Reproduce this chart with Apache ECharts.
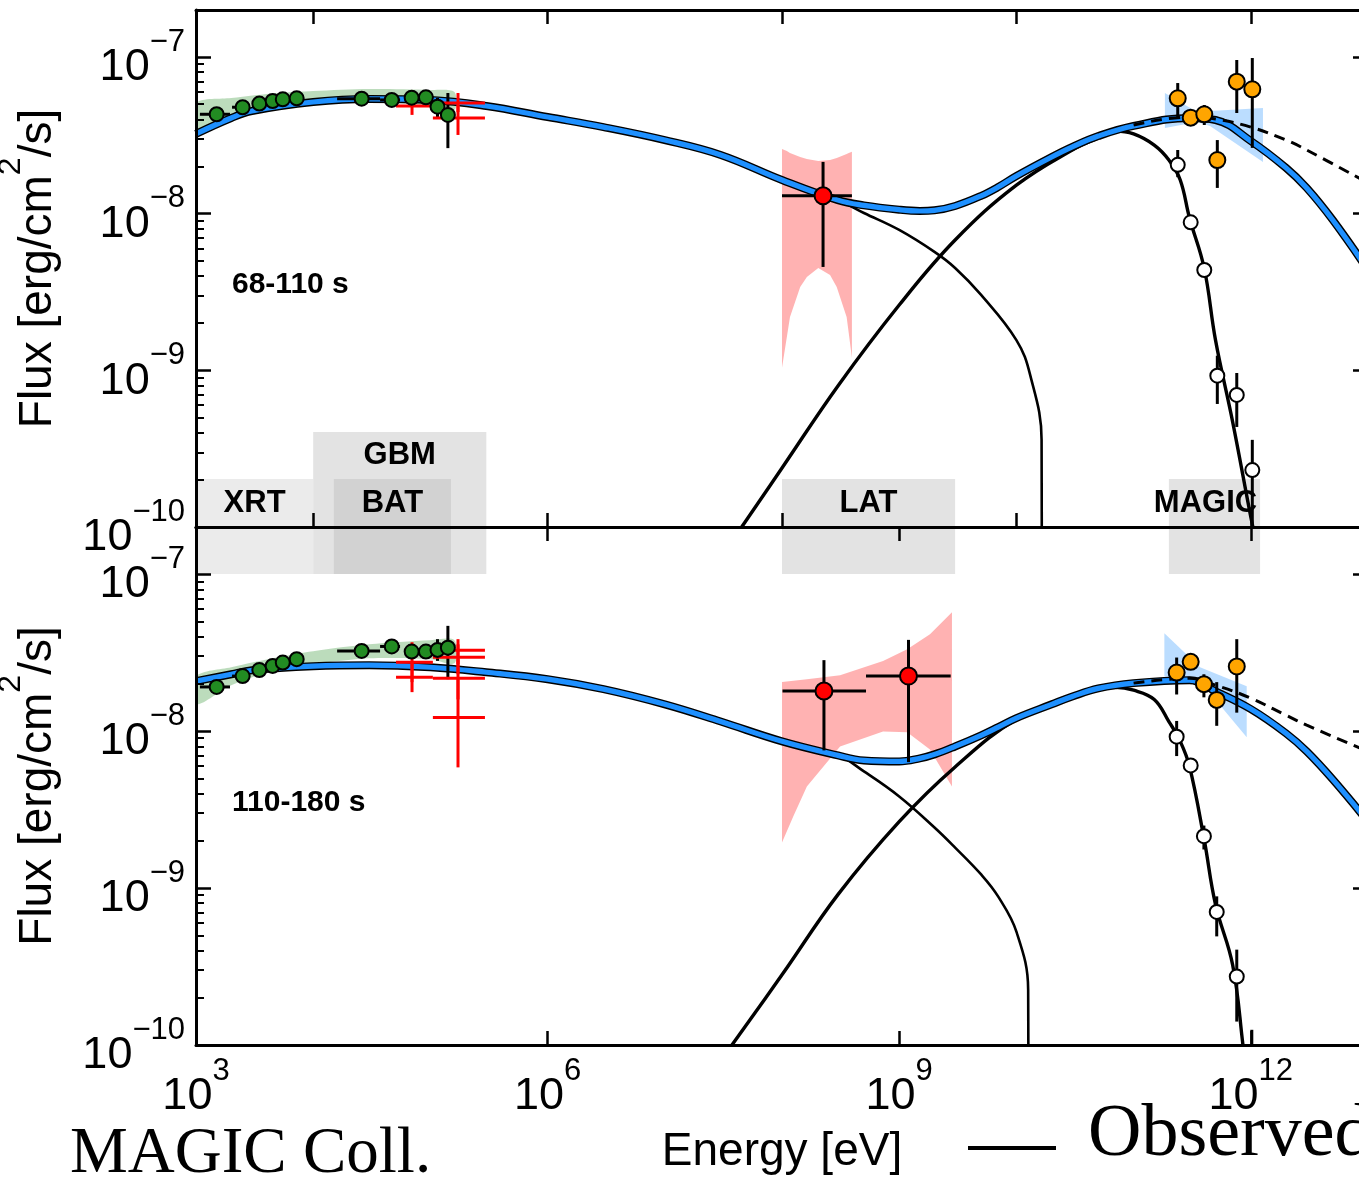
<!DOCTYPE html>
<html>
<head>
<meta charset="utf-8">
<script src="https://cdn.jsdelivr.net/npm/echarts@6/dist/echarts.min.js"></script>
<style>
html,body{margin:0;padding:0;background:#fff;}
#chart{width:1359px;height:1179px;}
</style>
</head>
<body>
<div id="chart"></div>
<script>
// Broadband SED of the two time windows. Energies in eV, fluxes in erg/cm^2/s.

// ---- X-ray points (XRT + BAT), shared energies ----
const xrayE   = [1.50e3, 2.50e3, 3.47e3, 4.51e3, 5.50e3, 7.23e3, 2.59e4, 4.68e4, 6.92e4, 9.16e4, 1.15e5, 1.41e5];
const xrayElo = [1.08e3, 2.03e3, null, null, null, null, 1.60e4, 3.72e4, null, null, null, null];
const xrayEhi = [1.95e3, 2.89e3, null, null, null, null, 3.72e4, 5.51e4, null, null, null, null];
const xrayF1   = [4.31e-8, 4.78e-8, 5.04e-8, 5.24e-8, 5.37e-8, 5.45e-8, 5.42e-8, 5.32e-8, 5.50e-8, 5.53e-8, 4.82e-8, 4.27e-8];
const xrayFlo1 = [null, null, null, null, null, null, null, null, null, null, 4.08e-8, 2.62e-8];
const xrayFhi1 = [null, null, null, null, null, null, null, null, null, null, 5.48e-8, 5.89e-8];
const xrayF2   = [1.91e-8, 2.24e-8, 2.45e-8, 2.60e-8, 2.73e-8, 2.87e-8, 3.24e-8, 3.46e-8, 3.21e-8, 3.21e-8, 3.29e-8, 3.40e-8];
const xrayFlo2 = [null, null, null, null, null, null, null, null, null, null, 2.80e-8, 2.14e-8];
const xrayFhi2 = [null, null, null, null, null, null, null, null, null, null, 3.85e-8, 4.68e-8];

// X-ray fit band
const xbandE   = [1e3, 2e3, 5e3, 1e4, 3e4, 1e5, 1.6e5];
const xbandLo1 = [3.47e-8, 4.27e-8, 5.01e-8, 5.24e-8, 5.24e-8, 4.87e-8, 4.59e-8];
const xbandHi1 = [5.09e-8, 5.47e-8, 5.89e-8, 6.07e-8, 6.25e-8, 6.16e-8, 5.98e-8];
const xbandLo2 = [1.48e-8, 1.96e-8, 2.48e-8, 2.67e-8, 2.91e-8, 2.87e-8, 2.70e-8];
const xbandHi2 = [2.23e-8, 2.55e-8, 2.95e-8, 3.23e-8, 3.57e-8, 3.79e-8, 3.79e-8];

// ---- GBM points ----
const gbmE1   = [6.97e4, 1.72e5, 1.72e5];
const gbmElo1 = [5.09e4, 1.05e5, 1.05e5];
const gbmEhi1 = [1.05e5, 2.92e5, 2.92e5];
const gbmF1   = [4.87e-8, 5.09e-8, 4.08e-8];
const gbmFlo1 = [4.27e-8, 4.46e-8, 3.18e-8];
const gbmFhi1 = [6.16e-8, 5.89e-8, 4.94e-8];
const gbmE2   = [6.97e4, 6.97e4, 1.72e5, 1.72e5, 1.72e5, 1.72e5];
const gbmElo2 = [5.09e4, 5.09e4, 1.05e5, 1.05e5, 1.05e5, 1.05e5];
const gbmEhi2 = [1.05e5, 1.05e5, 2.92e5, 2.92e5, 2.92e5, 2.92e5];
const gbmF2   = [2.74e-8, 2.20e-8, 3.27e-8, 2.95e-8, 2.17e-8, 1.22e-8];
const gbmFlo2 = [2.05e-8, 1.77e-8, 2.67e-8, 2.30e-8, 1.59e-8, 5.87e-9];
const gbmFhi2 = [3.68e-8, 2.74e-8, 3.85e-8, 3.57e-8, 2.87e-8, 2.14e-8];

// ---- LAT points and butterflies ----
const latE1 = [2.24e8], latElo1 = [1.00e8], latEhi1 = [3.95e8];
const latF1 = [1.30e-8], latFlo1 = [4.57e-9], latFhi1 = [2.14e-8];
const latE2 = [2.28e8, 1.20e9], latElo2 = [1.01e8, 5.21e8], latEhi2 = [5.21e8, 2.75e9];
const latF2 = [1.80e-8, 2.24e-8], latFlo2 = [7.53e-9, 6.34e-9], latFhi2 = [2.83e-8, 3.81e-8];

const latBandE1  = [1.00e8, 1.10e8, 1.17e8, 1.43e8, 1.63e8, 2.04e8, 2.57e8, 2.93e8, 3.56e8, 3.71e8, 3.95e8];
const latBandHi1 = [2.59e-8, 2.51e-8, 2.44e-8, 2.30e-8, 2.23e-8, 2.17e-8, 2.20e-8, 2.27e-8, 2.40e-8, 2.44e-8, 2.48e-8];
const latBandLo1 = [1.04e-9, 1.63e-9, 2.19e-9, 3.40e-9, 3.94e-9, 4.50e-9, 4.06e-9, 3.40e-9, 2.19e-9, 1.73e-9, 1.20e-9];
const latBandE2  = [1.00e8, 1.25e8, 1.63e8, 3.13e8, 7.28e8, 1.17e9, 1.83e9, 2.82e9];
const latBandHi2 = [2.05e-8, 2.09e-8, 2.14e-8, 2.27e-8, 2.79e-8, 3.32e-8, 4.14e-8, 5.72e-8];
const latBandLo2 = [1.95e-9, 2.87e-9, 4.44e-9, 7.98e-9, 9.95e-9, 9.81e-9, 7.64e-9, 4.44e-9];

// ---- MAGIC: EBL-corrected (orange) and observed (white) ----
const magicE1    = [2.38e11, 3.07e11, 4.01e11, 5.18e11, 7.59e11, 1.03e12];
const orangeF1   = [5.45e-8, 4.10e-8, 4.31e-8, 2.20e-8, 6.96e-8, 6.22e-8];
const orangeFlo1 = [4.14e-8, 3.68e-8, 3.68e-8, 1.46e-8, 4.39e-8, 2.63e-8];
const orangeFhi1 = [6.82e-8, 4.46e-8, 4.94e-8, 2.95e-8, 9.57e-8, 9.85e-8];
const whiteF1    = [2.05e-8, 8.81e-9, 4.37e-9, 9.25e-10, 6.97e-10, 2.31e-10];
const whiteFlo1  = [1.71e-8, 8.10e-9, 4.00e-9, 6.10e-10, 4.35e-10, 7.9e-11];
const whiteFhi1  = [2.55e-8, 9.60e-9, 4.80e-9, 1.24e-9, 9.62e-10, 3.60e-10];

const magicE2    = [2.33e11, 3.07e11, 3.98e11, 5.12e11, 7.59e11];
const orangeF2   = [2.36e-8, 2.76e-8, 1.99e-8, 1.58e-8, 2.58e-8];
const orangeFlo2 = [1.71e-8, 2.60e-8, 1.64e-8, 1.08e-8, 1.31e-8];
const orangeFhi2 = [2.94e-8, 2.90e-8, 2.30e-8, 2.05e-8, 3.85e-8];
const whiteE2    = [2.33e11, 3.07e11, 3.98e11, 5.12e11, 7.59e11, 1.02e12];
const whiteF2    = [9.21e-9, 6.04e-9, 2.14e-9, 7.04e-10, 2.73e-10, 7.0e-11];
const whiteFlo2  = [6.93e-9, 5.50e-9, 1.76e-9, 4.92e-10, 1.41e-10, 4.0e-11];
const whiteFhi2  = [1.16e-8, 6.60e-9, 2.50e-9, 8.85e-10, 4.05e-10, 1.25e-10];

const magicBandE1  = [1.85e11, 3.48e11, 4.49e11, 1.27e12];
const magicBandHi1 = [5.89e-8, 4.46e-8, 4.52e-8, 4.73e-8];
const magicBandLo1 = [3.52e-8, 3.85e-8, 3.63e-8, 2.14e-8];
const magicBandE2  = [1.83e11, 3.69e11, 9.23e11];
const magicBandHi2 = [4.20e-8, 2.55e-8, 1.93e-8];
const magicBandLo2 = [2.23e-8, 2.08e-8, 9.12e-9];

// ---- Model curves ----
const modelE  = [1e3, 2e3, 3e3, 1e4, 3e4, 1e5, 3e5, 1e6, 3e6, 1e7, 3e7, 1e8, 3e8, 5e8, 1e9, 1.5e9, 2e9, 3e9, 5e9, 7e9, 1e10, 2e10, 3e10, 5e10, 1e11, 3e11, 5e11, 1e12, 2e12, 3e12, 5e12, 1e13];
const totalF1 = [3.23e-8, 4.08e-8, 4.52e-8, 5.16e-8, 5.40e-8, 5.32e-8, 4.87e-8, 4.14e-8, 3.57e-8, 2.95e-8, 2.37e-8, 1.64e-8, 1.22e-8, 1.13e-8, 1.06e-8, 1.04e-8, 1.05e-8, 1.12e-8, 1.30e-8, 1.48e-8, 1.74e-8, 2.30e-8, 2.67e-8, 3.13e-8, 3.63e-8, 4.08e-8, 3.96e-8, 2.91e-8, 1.96e-8, 1.46e-8, 9.12e-9, 4.37e-9];
const totalF2 = [2.08e-8, 2.30e-8, 2.44e-8, 2.59e-8, 2.63e-8, 2.55e-8, 2.37e-8, 2.14e-8, 1.85e-8, 1.48e-8, 1.15e-8, 8.60e-9, 7.00e-9, 6.50e-9, 6.41e-9, 6.70e-9, 7.10e-9, 7.98e-9, 9.39e-9, 1.06e-8, 1.21e-8, 1.48e-8, 1.66e-8, 1.87e-8, 2.02e-8, 2.11e-8, 1.79e-8, 1.38e-8, 9.67e-9, 7.42e-9, 4.92e-9, 2.65e-9];

const synchE1 = [1e6, 3e6, 1e7, 3e7, 1e8, 3e8, 5e8, 1e9, 2e9, 3e9, 5e9, 1e10, 1.31e10, 1.64e10, 1.65e10];
const synchF1 = [4.14e-8, 3.57e-8, 2.95e-8, 2.37e-8, 1.64e-8, 1.22e-8, 1.01e-8, 7.87e-9, 5.70e-9, 4.50e-9, 3.03e-9, 1.56e-9, 9.35e-10, 3.60e-10, 1.0e-11];
const synchE2 = [1e6, 3e6, 1e7, 3e7, 1e8, 3e8, 5e8, 1e9, 2e9, 3e9, 5e9, 7e9, 1e10, 1.26e10, 1.27e10];
const synchF2 = [2.14e-8, 1.85e-8, 1.48e-8, 1.15e-8, 8.60e-9, 7.00e-9, 5.53e-9, 3.83e-9, 2.43e-9, 1.81e-9, 1.22e-9, 8.81e-10, 5.27e-10, 2.25e-10, 1.0e-11];

const icE1 = [4.53e7, 1e8, 3e8, 1e9, 3e9, 1e10, 3e10, 5e10, 7e10, 1e11, 1.5e11, 2e11, 2.5e11, 3e11, 4e11, 5e11, 7e11, 1e12, 1.1e12];
const icF1 = [1.0e-10, 2.38e-10, 7.95e-10, 2.61e-9, 6.79e-9, 1.52e-8, 2.55e-8, 3.04e-8, 3.37e-8, 3.23e-8, 2.74e-8, 2.20e-8, 1.64e-8, 9.39e-9, 4.50e-9, 1.56e-9, 4.69e-10, 1.16e-10, 8.3e-11];
const icE2 = [3.74e7, 1e8, 3e8, 1e9, 3e9, 1e10, 3e10, 5e10, 7e10, 1e11, 1.5e11, 2e11, 2.5e11, 3e11, 4e11, 5e11, 7e11, 8.57e11, 9.5e11];
const icF2 = [1.0e-10, 2.80e-10, 9.08e-10, 2.65e-9, 5.91e-9, 1.19e-8, 1.66e-8, 1.87e-8, 1.90e-8, 1.82e-8, 1.59e-8, 1.15e-8, 8.60e-9, 5.95e-9, 2.04e-9, 7.84e-10, 3.24e-10, 1.0e-10, 5.0e-11];

const dashE  = [1e11, 3e11, 5e11, 1e12, 2e12, 3e12, 1e13];
const dashF1 = [3.68e-8, 4.14e-8, 4.02e-8, 3.57e-8, 2.95e-8, 2.55e-8, 1.57e-8];
const dashF2 = [2.02e-8, 2.17e-8, 1.96e-8, 1.62e-8, 1.26e-8, 1.09e-8, 7.42e-9];

// ---- Instrument energy ranges ----
const instNames = ['XRT', 'GBM', 'BAT', 'LAT', 'MAGIC'];
const instLo    = [3e2, 1e4, 1.5e4, 1e8, 2e11];
const instHi    = [1e4, 3e5, 1.5e5, 3e9, 1.2e12];

// ---- Axis ticks (log10 units) ----
const xTicksTop    = [4, 6, 8, 10, 12];
const xTicksBottom = [3, 6, 9, 12];
const yTicks       = [-10, -9, -8, -7];

// ---------------------------------------------------------------
const FONT  = '"Liberation Sans", Arial, Helvetica, sans-serif';
const SERIF = '"Liberation Serif", "Times New Roman", serif';
const lg = Math.log10;
const Y_MIN = -10, Y_MAX = -6.7;
const CLEAR = 'rgba(0,0,0,0)';

// box styling for instrument ranges
const instFill  = ['#ebebeb', '#e3e3e3', '#d2d2d2', '#e3e3e3', '#e3e3e3'];
const instTier  = [-9.694, -9.394, -9.694, -9.694, -9.694];
const instTextY = [-9.847, -9.544, -9.847, -9.847, -9.847];
const instTextDx = [0, 0, 0, 0, -9];

function minorLogTicks(lo, hi) {
  const v = [];
  for (let n = Math.floor(lo); n < hi; n++) {
    for (let k = 2; k <= 9; k++) {
      const t = n + Math.log10(k);
      if (t > lo && t < hi) v.push(t);
    }
  }
  return v;
}
const yMinor = minorLogTicks(Y_MIN, Y_MAX);

// "10^n" written on two lines: the exponent line on top, the base below;
// invisible twins keep both lines the same width.
const expRich = {
  s:  {fontSize: 31, lineHeight: 22, fontFamily: FONT, color: '#000'},
  bh: {fontSize: 45, lineHeight: 22, fontFamily: FONT, color: CLEAR},
  b:  {fontSize: 45, lineHeight: 30, fontFamily: FONT, color: '#000'},
  sh: {fontSize: 31, lineHeight: 30, fontFamily: FONT, color: CLEAR}
};
function powerLabel(exp) {
  return '{bh|10}{s|' + exp + '}\n{b|10}{sh|' + exp + '}';
}

function xAxisCfg(gridIndex, position, ticks, labels) {
  const ax = {
    type: 'value', gridIndex, position, min: 3, max: 13, z: 10,
    axisLine: {show: true, onZero: false, lineStyle: {color: '#000', width: 3}},
    axisTick: {show: true, inside: true, length: 14, customValues: ticks, lineStyle: {color: '#000', width: 2.5}},
    axisLabel: {show: false},
    splitLine: {show: false}
  };
  if (labels) {
    ax.axisLabel = {
      show: true, customValues: ticks, margin: 15,
      formatter: v => powerLabel(String(Math.round(v))),
      rich: expRich
    };
    ax.name = 'Energy [eV]';
    ax.nameLocation = 'middle';
    ax.nameGap = 84;
    ax.nameMoveOverlap = false;
    ax.nameTextStyle = {fontSize: 46, fontFamily: FONT, color: '#000'};
  }
  return ax;
}

function yAxisCfg(gridIndex, position, minor, labels) {
  const ax = {
    type: 'value', gridIndex, position, min: Y_MIN, max: Y_MAX, z: 10,
    axisLine: {show: !minor, onZero: false, lineStyle: {color: '#000', width: 3}},
    axisTick: {show: true, inside: true, length: minor ? 8 : 15, customValues: minor ? yMinor : yTicks,
               lineStyle: {color: '#000', width: minor ? 2 : 2.5}},
    axisLabel: {show: false},
    splitLine: {show: false}
  };
  if (labels) {
    ax.axisLabel = {
      show: true, customValues: yTicks, margin: 11,
      formatter: v => powerLabel('\u2212' + Math.abs(Math.round(v))),
      rich: expRich
    };
    ax.name = '{ah|Flux [erg/cm}{s|2}{ah|/s]}\n{a|Flux [erg/cm}{sh|2}{a|/s]}';
    ax.nameLocation = 'middle';
    ax.nameRotate = 90;
    ax.nameGap = 141;
    ax.nameMoveOverlap = false;
    ax.nameTextStyle = {
      align: 'center',
      rich: {
        s:  {fontSize: 32, lineHeight: 20, fontFamily: FONT, color: '#000'},
        ah: {fontSize: 46, lineHeight: 20, fontFamily: FONT, color: CLEAR},
        a:  {fontSize: 46, lineHeight: 34, fontFamily: FONT, color: '#000'},
        sh: {fontSize: 32, lineHeight: 34, fontFamily: FONT, color: CLEAR}
      }
    };
  }
  return ax;
}

// --- series builders ---
function axes(g) { return {xAxisIndex: g ? 2 : 0, yAxisIndex: g ? 4 : 0}; }

function instBoxes(g) {
  return Object.assign({
    type: 'custom', z: 1, clip: true, silent: true, animation: false,
    data: instNames.map((n, i) => [lg(instHi[i]), g ? -7 : -10]),
    renderItem(params, api) {
      const i = params.dataIndex;
      const y0 = g ? -7 : Y_MIN, y1 = g ? Y_MAX : instTier[i];
      const p0 = api.coord([lg(instLo[i]), y0]);
      const p1 = api.coord([lg(instHi[i]), y1]);
      return {type: 'rect', shape: {x: p0[0], y: p1[1], width: p1[0] - p0[0], height: p0[1] - p1[1]},
              style: {fill: instFill[i]}};
    }
  }, axes(g));
}

function instLabels() {
  return Object.assign({
    type: 'custom', z: 9, clip: true, silent: true, animation: false,
    data: instNames.map((n, i) => [lg(instHi[i]), instTextY[i]]),
    renderItem(params, api) {
      const i = params.dataIndex, cs = params.coordSys;
      const a = api.coord([lg(instLo[i]), instTextY[i]]);
      const b = api.coord([lg(instHi[i]), instTextY[i]]);
      const xl = Math.max(a[0], cs.x), xr = Math.min(b[0], cs.x + cs.width);
      return {type: 'text', x: (xl + xr) / 2 + instTextDx[i], y: a[1],
              style: {text: instNames[i], font: 'bold 31px ' + FONT, fill: '#000',
                      align: 'center', verticalAlign: 'middle', textAlign: 'center', textVerticalAlign: 'middle'}};
    }
  }, axes(0));
}

function band(g, E, lo, hi, color, smooth) {
  return Object.assign({
    type: 'custom', z: 2, clip: true, silent: true, animation: false,
    data: [[lg(E[0]), lg(hi[0])]],
    renderItem(params, api) {
      const pts = [];
      for (let i = 0; i < E.length; i++) pts.push(api.coord([lg(E[i]), lg(hi[i])]));
      for (let i = E.length - 1; i >= 0; i--) pts.push(api.coord([lg(E[i]), lg(lo[i])]));
      return {type: 'polygon', shape: {points: pts, smooth: smooth || 0}, style: {fill: color}};
    }
  }, axes(g));
}

function curve(g, E, F, color, width, z, dashed) {
  return Object.assign({
    type: 'line', z, silent: true, animation: false, clip: true,
    showSymbol: false, symbol: 'none', smooth: 0.4,
    lineStyle: {color, width, type: dashed ? [11, 7] : 'solid', cap: 'butt'},
    data: E.map((e, i) => [lg(e), lg(F[i])])
  }, axes(g));
}

function errBars(g, E, F, Elo, Ehi, Flo, Fhi, color, width) {
  return Object.assign({
    type: 'custom', z: 7, clip: true, silent: true, animation: false,
    data: E.map((e, i) => [lg(e), lg(F[i])]),
    renderItem(params, api) {
      const i = params.dataIndex, kids = [];
      const x = lg(E[i]), y = lg(F[i]);
      const st = {stroke: color, lineWidth: width};
      if (Elo && Elo[i] != null) {
        const a = api.coord([lg(Elo[i]), y]), b = api.coord([lg(Ehi[i]), y]);
        kids.push({type: 'line', shape: {x1: a[0], y1: a[1], x2: b[0], y2: b[1]}, style: st});
      }
      if (Flo && Flo[i] != null) {
        const a = api.coord([x, lg(Flo[i])]), b = api.coord([x, lg(Fhi[i])]);
        kids.push({type: 'line', shape: {x1: a[0], y1: a[1], x2: b[0], y2: b[1]}, style: st});
      }
      return {type: 'group', children: kids};
    }
  }, axes(g));
}

function points(g, E, F, fill, size) {
  return Object.assign({
    type: 'scatter', z: 8, silent: true, animation: false, clip: true,
    symbol: 'circle', symbolSize: size,
    itemStyle: {color: fill, borderColor: '#000', borderWidth: 2, opacity: 1},
    data: E.map((e, i) => [lg(e), lg(F[i])])
  }, axes(g));
}

function panel(g, d) {
  return [
    instBoxes(g),
    band(g, xbandE, d.xbLo, d.xbHi, 'rgba(34,139,34,0.3)', 0.3),
    band(g, d.latBE, d.latBLo, d.latBHi, 'rgba(255,0,0,0.3)', 0),
    band(g, d.magBE, d.magBLo, d.magBHi, 'rgba(30,144,255,0.3)', 0),
    curve(g, d.synE, d.synF, '#000', 2.6, 3),
    curve(g, d.icE, d.icF, '#000', 3.4, 3),
    curve(g, modelE, d.totF, '#000', 8, 4),
    curve(g, modelE, d.totF, '#1e90ff', 5.2, 5),
    curve(g, dashE, d.dashF, '#000', 3, 6, true),
    errBars(g, xrayE, d.xF, xrayElo, xrayEhi, d.xFlo, d.xFhi, '#000', 3),
    errBars(g, d.gbmE, d.gbmF, d.gbmElo, d.gbmEhi, d.gbmFlo, d.gbmFhi, '#ff0000', 3),
    errBars(g, d.latE, d.latF, d.latElo, d.latEhi, d.latFlo, d.latFhi, '#000', 3),
    errBars(g, d.orE, d.orF, null, null, d.orFlo, d.orFhi, '#000', 3),
    errBars(g, d.whE, d.whF, null, null, d.whFlo, d.whFhi, '#000', 3),
    points(g, xrayE, d.xF, '#228b22', 14),
    points(g, d.latE, d.latF, '#ff0000', 17),
    points(g, d.whE, d.whF, '#ffffff', 14),
    points(g, d.orE, d.orF, '#ffa500', 16)
  ];
}

const series = [].concat(
  panel(0, {
    xbLo: xbandLo1, xbHi: xbandHi1,
    latBE: latBandE1, latBLo: latBandLo1, latBHi: latBandHi1,
    magBE: magicBandE1, magBLo: magicBandLo1, magBHi: magicBandHi1,
    synE: synchE1, synF: synchF1, icE: icE1, icF: icF1, totF: totalF1, dashF: dashF1,
    xF: xrayF1, xFlo: xrayFlo1, xFhi: xrayFhi1,
    gbmE: gbmE1, gbmF: gbmF1, gbmElo: gbmElo1, gbmEhi: gbmEhi1, gbmFlo: gbmFlo1, gbmFhi: gbmFhi1,
    latE: latE1, latF: latF1, latElo: latElo1, latEhi: latEhi1, latFlo: latFlo1, latFhi: latFhi1,
    orE: magicE1, orF: orangeF1, orFlo: orangeFlo1, orFhi: orangeFhi1,
    whE: magicE1, whF: whiteF1, whFlo: whiteFlo1, whFhi: whiteFhi1
  }),
  panel(1, {
    xbLo: xbandLo2, xbHi: xbandHi2,
    latBE: latBandE2, latBLo: latBandLo2, latBHi: latBandHi2,
    magBE: magicBandE2, magBLo: magicBandLo2, magBHi: magicBandHi2,
    synE: synchE2, synF: synchF2, icE: icE2, icF: icF2, totF: totalF2, dashF: dashF2,
    xF: xrayF2, xFlo: xrayFlo2, xFhi: xrayFhi2,
    gbmE: gbmE2, gbmF: gbmF2, gbmElo: gbmElo2, gbmEhi: gbmEhi2, gbmFlo: gbmFlo2, gbmFhi: gbmFhi2,
    latE: latE2, latF: latF2, latElo: latElo2, latEhi: latEhi2, latFlo: latFlo2, latFhi: latFhi2,
    orE: magicE2, orF: orangeF2, orFlo: orangeFlo2, orFhi: orangeFhi2,
    whE: whiteE2, whF: whiteF2, whFlo: whiteFlo2, whFhi: whiteFhi2
  }),
  [instLabels()]
);

const chart = echarts.init(document.getElementById('chart'), null, {renderer: 'canvas', width: 1359, height: 1179});
chart.setOption({
  animation: false,
  backgroundColor: '#ffffff',
  textStyle: {fontFamily: FONT, color: '#000'},
  grid: [
    {left: 196, top: 10, width: 1172, height: 517, outerBoundsMode: 'none', containLabel: false},
    {left: 196, top: 527, width: 1172, height: 518, outerBoundsMode: 'none', containLabel: false}
  ],
  xAxis: [
    xAxisCfg(0, 'bottom', xTicksTop, false),
    xAxisCfg(0, 'top', xTicksTop, false),
    xAxisCfg(1, 'bottom', xTicksBottom, true),
    xAxisCfg(1, 'top', xTicksBottom, false)
  ],
  yAxis: [
    yAxisCfg(0, 'left', false, true),
    yAxisCfg(0, 'left', true, false),
    yAxisCfg(0, 'right', false, false),
    yAxisCfg(0, 'right', true, false),
    yAxisCfg(1, 'left', false, true),
    yAxisCfg(1, 'left', true, false),
    yAxisCfg(1, 'right', false, false),
    yAxisCfg(1, 'right', true, false)
  ],
  series: series,
  graphic: [
    {type: 'text', x: 232, y: 285, z: 20,
     style: {text: '68-110 s', font: 'bold 30px ' + FONT, fill: '#000', align: 'left', verticalAlign: 'middle'}},
    {type: 'text', x: 232, y: 803, z: 20,
     style: {text: '110-180 s', font: 'bold 30px ' + FONT, fill: '#000', align: 'left', verticalAlign: 'middle'}},
    {type: 'text', x: 70, y: 1155, z: 20,
     style: {text: 'MAGIC Coll.', font: '65px ' + SERIF, fill: '#000', align: 'left', verticalAlign: 'middle'}},
    {type: 'line', z: 20, shape: {x1: 968, y1: 1148, x2: 1056, y2: 1148},
     style: {stroke: '#000', lineWidth: 4}},
    {type: 'text', x: 1088, y: 1136, z: 20,
     style: {text: 'Observed', font: '74px ' + SERIF, fill: '#000', align: 'left', verticalAlign: 'middle'}}
  ]
});
</script>
</body>
</html>
